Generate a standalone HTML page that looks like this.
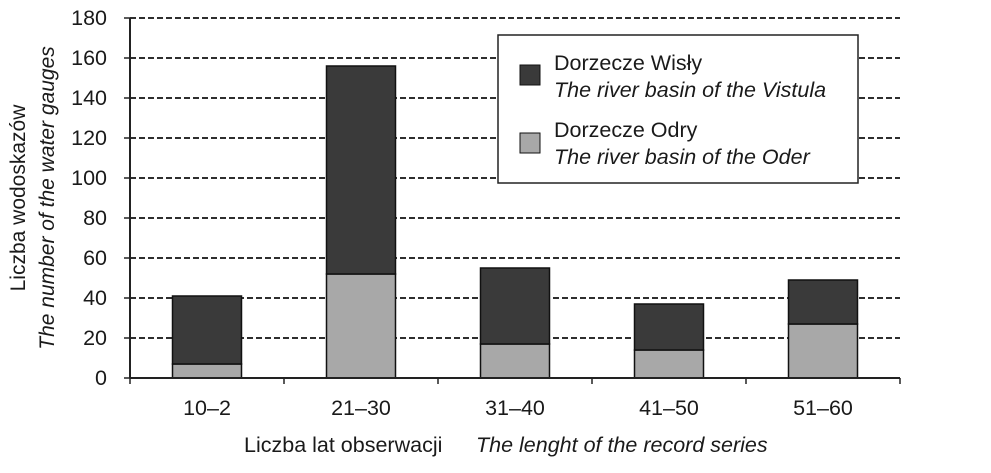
<!DOCTYPE html>
<html><head><meta charset="utf-8"><style>
body{margin:0;background:#fff;}
svg{display:block;font-family:"Liberation Sans",sans-serif;}
</style></head><body>
<svg id="chart" width="991" height="473" viewBox="0 0 991 473">
<g id="grid"></g>
<g id="bars"></g>
<g id="axes"></g>
<text transform="translate(25,198) rotate(-90)" text-anchor="middle" font-size="21" fill="#1a1a1a">Liczba wodoskazów</text>
<text transform="translate(54,198) rotate(-90)" text-anchor="middle" font-size="21" font-style="italic" fill="#1a1a1a">The number of the water gauges</text>
<text x="244" y="452" font-size="21.5" fill="#1a1a1a">Liczba lat obserwacji</text>
<text x="476" y="452" font-size="21.5" font-style="italic" fill="#1a1a1a">The lenght of the record series</text>
<g>
<rect x="498" y="35" width="360" height="148" fill="#fff" stroke="#222" stroke-width="1.5"/>
<rect x="520" y="65" width="20" height="20" fill="#3a3a3a" stroke="#111"/>
<text x="554" y="70" font-size="21.5" fill="#1a1a1a">Dorzecze Wisły</text>
<text x="554" y="97" font-size="21.5" font-style="italic" fill="#1a1a1a">The river basin of the Vistula</text>
<rect x="520" y="133" width="20" height="20" fill="#a8a8a8" stroke="#111"/>
<text x="554" y="137" font-size="21.5" fill="#1a1a1a">Dorzecze Odry</text>
<text x="554" y="164" font-size="21.5" font-style="italic" fill="#1a1a1a">The river basin of the Oder</text>
</g>
</svg>
<script>
const categories=["10–2","21–30","31–40","41–50","51–60"];
const oder=[7,52,17,14,27];
const vistula=[34,104,38,23,22];
const yTicks=[0,20,40,60,80,100,120,140,160,180];
const NS="http://www.w3.org/2000/svg";
const x0=130,x1=900,y0=378,yMax=180,ph=360;
const bw=(x1-x0)/categories.length;
function y(v){return y0-v/yMax*ph;}
function mk(t,a,p){const e=document.createElementNS(NS,t);for(const k in a)e.setAttribute(k,a[k]);p.appendChild(e);return e;}
const grid=document.getElementById('grid'),bars=document.getElementById('bars'),axes=document.getElementById('axes');
yTicks.forEach(v=>{
 if(v>0){const l=mk('line',{x1:x0,x2:x1,y1:y(v),y2:y(v),stroke:'#111','stroke-width':1.8,'stroke-dasharray':'6,3'},grid);
 
 }
 mk('line',{x1:x0-6,x2:x0,y1:y(v),y2:y(v),stroke:'#222','stroke-width':1.5},axes);
 const tx=mk('text',{x:x0-23,y:y(v)+7,'text-anchor':'end','font-size':21.5,fill:'#1a1a1a'},axes);
 tx.textContent=v;
 
 
});
categories.forEach((c,i)=>{
 const cx=x0+bw*(i+0.5),w=69,bx=cx-w/2;
 const r1=mk('rect',{x:bx,y:y(oder[i]),width:w,height:y0-y(oder[i]),fill:'#a8a8a8',stroke:'#111','stroke-width':1.5},bars);
 
 
 const r2=mk('rect',{x:bx,y:y(oder[i]+vistula[i]),width:w,height:y(oder[i])-y(oder[i]+vistula[i]),fill:'#3a3a3a',stroke:'#111','stroke-width':1.5},bars);
 
 
 const tx=mk('text',{x:cx,y:415,'text-anchor':'middle','font-size':21.5,fill:'#1a1a1a'},axes);
 tx.textContent=c;
 
 
 mk('line',{x1:x0+bw*i,x2:x0+bw*i,y1:y0,y2:y0+6,stroke:'#222','stroke-width':1.5},axes);
});
mk('line',{x1:x1,x2:x1,y1:y0,y2:y0+6,stroke:'#222','stroke-width':1.5},axes);
mk('line',{x1:x0,x2:x0,y1:y(180),y2:y0,stroke:'#222','stroke-width':2},axes);
mk('line',{x1:x0,x2:x1,y1:y0,y2:y0,stroke:'#222','stroke-width':2},axes);
</script>
</body></html>
